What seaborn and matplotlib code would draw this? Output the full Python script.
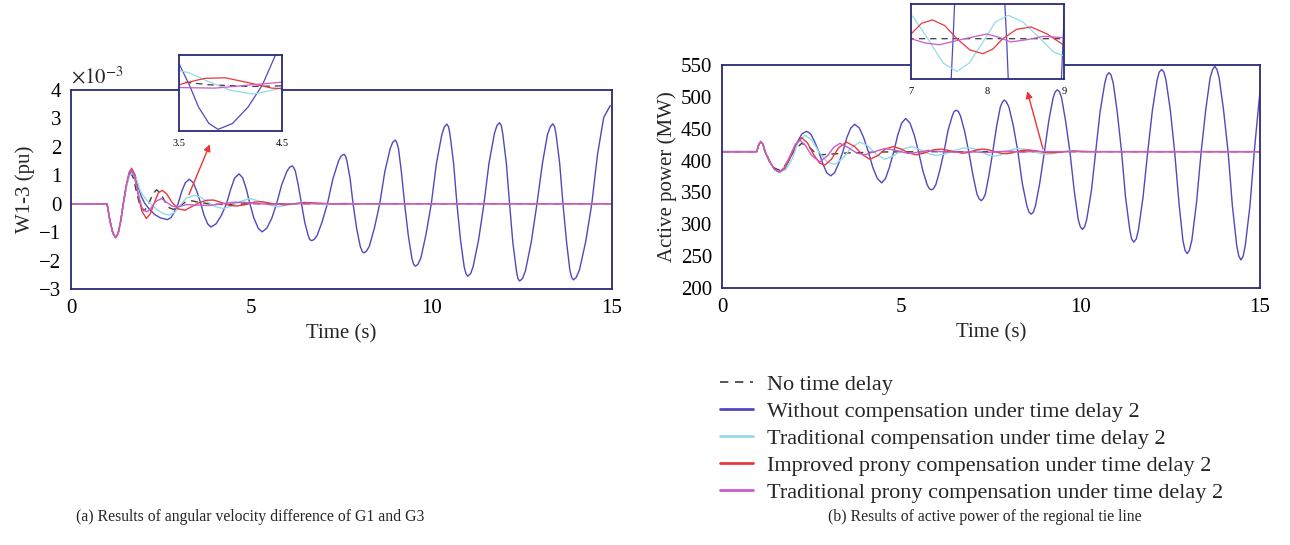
import numpy as np
import pandas as pd
import matplotlib
matplotlib.use("Agg")
import matplotlib.pyplot as plt
import seaborn as sns

# ---- data ----
labels = ["No time delay",
          "Without compensation under time delay 2",
          "Traditional compensation under time delay 2",
          "Improved prony compensation under time delay 2",
          "Traditional prony compensation under time delay 2"]
colors = ["#3a3a3a", "#5049bc", "#93dbe9", "#e8383d", "#c95cc9"]

# (a) angular velocity difference W1-3, units of 1e-3 pu
a_t_nodelay = [0, 1.00, 1.08, 1.16, 1.24, 1.31, 1.38, 1.45, 1.53, 1.60, 1.66, 1.73, 1.82, 1.92, 2.03,
               2.14, 2.26, 2.37, 2.48, 2.60, 2.72, 2.84, 2.98, 3.15, 3.35, 3.55, 3.80, 4.20, 5.00, 15.0]
a_nodelay = [0, 0, -0.60, -1.03, -1.19, -1.03, -0.60, 0, 0.58, 0.95, 1.08, 0.90, 0.40, -0.10, -0.25,
             -0.05, 0.32, 0.49, 0.38, 0.08, -0.14, -0.20, -0.12, 0.04, 0.10, 0.05, 0.00, -0.03, 0, 0]

a_t_without = [0, 1.00, 1.08, 1.16, 1.24, 1.31, 1.38, 1.45, 1.53, 1.62, 1.70, 1.78, 1.86, 1.95, 2.05,
               2.18, 2.32, 2.48, 2.68, 2.78, 2.87, 2.97, 3.07, 3.17, 3.28, 3.39, 3.49, 3.60, 3.69,
               3.79, 3.88, 4.02, 4.17, 4.31, 4.43, 4.54, 4.66, 4.76, 4.86, 4.96, 5.07, 5.19, 5.30,
               5.43, 5.57, 5.70, 5.84, 5.99, 6.06, 6.13, 6.17, 6.22, 6.30, 6.39,
               6.48, 6.58, 6.62, 6.67, 6.74, 6.82, 6.96, 7.11,
               7.26, 7.42, 7.49, 7.57, 7.61, 7.65, 7.74, 7.82,
               7.92, 8.02, 8.07, 8.12, 8.19, 8.27, 8.41, 8.56,
               8.70, 8.85, 8.92, 8.99, 9.03, 9.08, 9.16, 9.25,
               9.35, 9.45, 9.50, 9.55, 9.62, 9.70, 9.84, 9.99,
               10.13, 10.28, 10.35, 10.42, 10.47, 10.51, 10.61, 10.70,
               10.80, 10.90, 10.95, 11.00, 11.08, 11.15, 11.30, 11.45,
               11.59, 11.74, 11.81, 11.88, 11.93, 11.97, 12.07, 12.16,
               12.25, 12.35, 12.39, 12.44, 12.52, 12.60, 12.76, 12.92,
               13.07, 13.21, 13.29, 13.36, 13.41, 13.45, 13.55, 13.64,
               13.74, 13.83, 13.88, 13.93, 14.01, 14.10, 14.27, 14.44,
               14.60, 14.77, 14.95]
a_without = [0, 0, -0.60, -1.03, -1.19, -1.03, -0.60, 0, 0.60, 1.04, 1.20, 1.00, 0.60, 0.25, 0.00,
             -0.20, -0.38, -0.50, -0.56, -0.48, -0.28, 0, 0.43, 0.74, 0.86, 0.74, 0.43, 0, -0.41,
             -0.71, -0.82, -0.71, -0.41, 0, 0.52, 0.91, 1.05, 0.91, 0.52, 0, -0.50, -0.86, -0.99,
             -0.86, -0.50, 0, 0.66, 1.15, 1.28, 1.33, 1.28, 1.15, 0.66, 0,
             -0.65, -1.13, -1.26, -1.30, -1.26, -1.13, -0.65, 0,
             0.87, 1.51, 1.68, 1.74, 1.68, 1.51, 0.87, 0,
             -0.87, -1.50, -1.67, -1.73, -1.67, -1.50, -0.87, 0,
             1.12, 1.94, 2.16, 2.24, 2.16, 1.94, 1.12, 0,
             -1.10, -1.91, -2.13, -2.20, -2.13, -1.91, -1.10, 0,
             1.40, 2.42, 2.70, 2.80, 2.70, 2.42, 1.40, 0,
             -1.28, -2.21, -2.46, -2.55, -2.46, -2.21, -1.28, 0,
             1.43, 2.47, 2.75, 2.85, 2.75, 2.47, 1.43, 0,
             -1.36, -2.36, -2.63, -2.72, -2.63, -2.36, -1.36, 0,
             1.41, 2.43, 2.71, 2.81, 2.71, 2.43, 1.41, 0,
             -1.34, -2.32, -2.59, -2.68, -2.59, -2.32, -1.34, 0,
             1.75, 3.03, 3.45]

a_t_trad = [0, 1.00, 1.08, 1.16, 1.24, 1.31, 1.38, 1.45, 1.53, 1.62, 1.72, 1.82, 1.92, 2.02, 2.12,
            2.25, 2.40, 2.55, 2.72, 2.88, 3.03, 3.20, 3.42, 3.60, 3.80, 4.00, 4.22, 4.45, 4.70,
            4.95, 5.20, 5.45, 5.75, 6.05, 6.40, 6.75, 7.10, 7.50, 8.00, 8.50, 9.20, 15.0]
a_trad = [0, 0, -0.60, -1.03, -1.19, -1.03, -0.60, 0, 0.55, 0.98, 1.10, 0.85, 0.45, 0.25, 0.10,
          -0.05, -0.22, -0.35, -0.40, -0.30, -0.05, 0.20, 0.30, 0.22, 0.05, -0.10, -0.17, -0.08, 0.08,
          0.18, 0.10, -0.03, -0.11, -0.03, 0.06, 0.00, -0.04, 0.02, 0.00, -0.02, 0, 0]

a_t_improved = [0, 1.00, 1.08, 1.16, 1.24, 1.31, 1.38, 1.45, 1.53, 1.61, 1.68, 1.76, 1.86, 1.96, 2.09,
                2.20, 2.30, 2.42, 2.53, 2.65, 2.80, 2.97, 3.16, 3.35, 3.55, 3.75, 3.95, 4.15, 4.40,
                4.60, 4.85, 5.10, 5.30, 5.60, 5.90, 6.20, 6.50, 6.90, 7.30, 8.00, 15.0]
a_improved = [0, 0, -0.60, -1.03, -1.20, -1.03, -0.60, 0, 0.65, 1.10, 1.25, 1.00, 0.35, -0.25, -0.52,
              -0.35, 0.00, 0.38, 0.47, 0.35, 0.05, -0.18, -0.23, -0.10, 0.03, 0.12, 0.13, 0.05, -0.06,
              -0.08, -0.03, 0.06, 0.07, 0.00, -0.04, 0.00, 0.04, 0.02, -0.01, 0, 0]

a_t_prony = [0, 1.00, 1.08, 1.16, 1.24, 1.31, 1.38, 1.45, 1.53, 1.61, 1.68, 1.76, 1.86, 1.97, 2.10,
             2.22, 2.35, 2.51, 2.65, 2.80, 2.95, 3.20, 3.50, 3.85, 4.20, 4.50, 4.80, 5.20, 5.60, 6.00, 15.0]
a_prony = [0, 0, -0.60, -1.03, -1.19, -1.03, -0.60, 0, 0.62, 1.05, 1.20, 0.95, 0.35, -0.15, -0.29,
           -0.15, 0.08, 0.18, 0.05, -0.08, -0.12, -0.03, -0.05, -0.06, 0.00, 0.05, 0.05, 0.00, -0.03, 0, 0]

# (b) active power of the regional tie line, MW
b_t_nodelay = [0, 0.97, 1.02, 1.08, 1.14, 1.20, 1.33, 1.47, 1.60, 1.75, 1.90, 2.05, 2.22, 2.40,
               2.60, 2.73, 3.00, 3.50, 4.50, 6.00, 15.0]
b_nodelay = [414, 414, 424, 430, 426, 414, 399, 388, 385, 392, 405, 418, 427, 423,
             412, 409, 410, 412, 413.5, 414, 414]

b_t_without = [0, 0.97, 1.02, 1.08, 1.14, 1.20, 1.33, 1.47, 1.60, 1.73, 1.85, 1.98, 2.11, 2.23, 2.36,
               2.47, 2.58, 2.70, 2.81, 2.92, 3.03, 3.14, 3.25, 3.37, 3.48, 3.59, 3.70, 3.83, 3.95,
               4.08, 4.20, 4.33, 4.45, 4.56, 4.67, 4.79, 4.90, 5.01, 5.12, 5.24, 5.36, 5.48,
               5.60, 5.72, 5.78, 5.84, 5.90, 5.96, 6.07, 6.19,
               6.30, 6.42, 6.47, 6.53, 6.59, 6.65, 6.76, 6.88,
               7.00, 7.11, 7.17, 7.23, 7.28, 7.34, 7.44, 7.55,
               7.66, 7.76, 7.82, 7.87, 7.93, 8.00, 8.12, 8.25,
               8.37, 8.50, 8.56, 8.62, 8.68, 8.74, 8.86, 8.99,
               9.11, 9.23, 9.29, 9.35, 9.41, 9.47, 9.58, 9.70,
               9.82, 9.93, 9.99, 10.05, 10.11, 10.17, 10.30, 10.42,
               10.54, 10.67, 10.73, 10.79, 10.85, 10.91, 11.02, 11.14,
               11.25, 11.37, 11.42, 11.48, 11.55, 11.61, 11.74, 11.87,
               12.00, 12.13, 12.19, 12.26, 12.32, 12.38, 12.50, 12.62,
               12.74, 12.85, 12.91, 12.97, 13.03, 13.10, 13.23, 13.36,
               13.49, 13.61, 13.68, 13.74, 13.80, 13.86, 13.98, 14.11,
               14.23, 14.35, 14.41, 14.47, 14.53, 14.59, 14.72, 14.84,
               14.95, 15.0]
b_without = [414, 414, 424, 430, 426, 414, 398, 386, 382, 386, 398, 414, 430, 442, 446,
             442, 430, 414, 395, 381, 376, 381, 395, 414, 436, 451, 457, 451, 436,
             414, 390, 372, 365, 372, 390, 414, 440, 459, 466, 459, 440, 414,
             384, 362, 356, 354, 356, 362, 384, 414,
             447, 470, 477, 479, 477, 470, 447, 414,
             376, 347, 340, 337, 340, 347, 376, 414,
             455, 484, 492, 495, 492, 484, 455, 414,
             365, 329, 319, 316, 319, 329, 365, 414,
             462, 498, 508, 511, 508, 498, 462, 414,
             353, 308, 296, 292, 296, 308, 353, 414,
             476, 521, 534, 538, 534, 521, 476, 414,
             343, 291, 277, 272, 277, 291, 343, 414,
             479, 526, 539, 543, 539, 526, 479, 414,
             334, 275, 259, 254, 259, 275, 334, 414,
             481, 530, 543, 548, 543, 530, 481, 414,
             329, 267, 250, 244, 250, 267, 329, 414,
             480, 508]

b_t_trad = [0, 0.97, 1.02, 1.08, 1.14, 1.20, 1.33, 1.47, 1.62, 1.78, 1.95, 2.12, 2.31, 2.50, 2.70,
            2.92, 3.15, 3.38, 3.60, 3.84, 4.05, 4.30, 4.54, 4.80, 5.05, 5.28, 5.50, 5.75, 5.98,
            6.20, 6.50, 6.70, 6.85, 7.02, 7.22, 7.42, 7.60, 7.76, 7.93, 8.10, 8.27, 8.46, 8.66,
            8.86, 9.05, 9.25, 9.45, 9.70, 10.10, 10.50, 15.0]
b_trad = [414, 414, 424, 430, 426, 414, 398, 386, 382, 386, 402, 428, 440, 432, 414,
          398, 394, 404, 420, 429, 424, 410, 402, 408, 418, 422, 418, 411, 408,
          410, 416, 419.3, 420, 418.8, 414, 408.8, 407, 408.8, 413, 417.5, 419, 417.6, 414.5,
          411.2, 410, 411, 413.5, 416, 413, 414, 414]

b_t_improved = [0, 0.97, 1.02, 1.08, 1.14, 1.20, 1.33, 1.47, 1.60, 1.75, 1.90, 2.05, 2.22, 2.38, 2.55,
                2.72, 2.87, 3.05, 3.25, 3.47, 3.70, 3.90, 4.12, 4.35, 4.55, 4.77, 5.00, 5.20, 5.42,
                5.65, 5.90, 6.12, 6.40, 6.70, 6.85, 7.00, 7.14, 7.28, 7.44, 7.60, 7.77, 7.94, 8.07,
                8.20, 8.38, 8.57, 8.78, 9.00, 9.20, 9.40, 9.80, 10.30, 15.0]
b_improved = [414, 414, 424, 430, 426, 414, 398, 386, 382, 388, 405, 425, 436, 428, 410,
              396, 393, 402, 420, 429, 422, 410, 402, 408, 418, 422, 418, 412, 409,
              412, 417, 418, 415, 411.5, 412.6, 415, 417.3, 418, 416.8, 414, 411.6, 410.8, 411.8,
              414, 416, 416.5, 415, 412.6, 412.3, 413, 415, 414, 414]

b_t_prony = [0, 0.97, 1.02, 1.08, 1.14, 1.20, 1.33, 1.47, 1.60, 1.75, 1.90, 2.05, 2.17, 2.32, 2.50,
             2.73, 2.95, 3.12, 3.29, 3.50, 3.75, 3.98, 4.25, 4.54, 4.85, 5.20, 5.45, 5.75, 6.10,
             6.50, 7.00, 7.18, 7.37, 7.68, 7.99, 8.15, 8.30, 8.52, 8.73, 9.20, 15.0]
b_prony = [414, 414, 424, 430, 426, 414, 398, 386, 382, 390, 408, 426, 432, 424, 408,
           398, 408, 421, 427, 421, 412, 409, 414, 419, 416, 411, 413, 416, 414,
           413, 414, 413.1, 412.7, 413.9, 415, 414.3, 413.3, 413.8, 414.5, 414, 414]

a_series = [(a_t_nodelay, a_nodelay), (a_t_without, a_without), (a_t_trad, a_trad),
            (a_t_improved, a_improved), (a_t_prony, a_prony)]
b_series = [(b_t_nodelay, b_nodelay), (b_t_without, b_without), (b_t_trad, b_trad),
            (b_t_improved, b_improved), (b_t_prony, b_prony)]

# ---- style ----
sns.set_style("white")
plt.rcParams["font.family"] = ["Liberation Serif", "DejaVu Serif"]
plt.rcParams["mathtext.fontset"] = "stix"
navy = "#2a2a78"

fig = plt.figure(figsize=(12.9, 5.45), dpi=100)


def draw(ax, series, lw=1.0, legend=False):
    for i, (t, v) in enumerate(series):
        df = pd.DataFrame({"t": t, "v": v})
        sns.lineplot(data=df, x="t", y="v", ax=ax, color=colors[i], linewidth=lw,
                     linestyle=(0, (5, 4)) if i == 0 else "-", estimator=None, sort=False,
                     label=labels[i] if legend else None, legend=False)


def frame(ax, size=15, length=4):
    for s in ax.spines.values():
        s.set_visible(True)
        s.set_color(navy)
        s.set_linewidth(1.3)
    ax.tick_params(direction="out", length=length, width=1.3, color=navy,
                   labelsize=size, labelcolor="black", pad=3)
    ax.set_facecolor("white")


# (a)
axa = fig.add_axes([71 / 1290, 1 - 289 / 545, 541 / 1290, 199 / 545])
draw(axa, a_series)
axa.set_xlim(0, 15)
axa.set_ylim(-3, 4)
axa.set_xticks([0, 5, 10, 15])
axa.set_yticks(range(-3, 5))
frame(axa)
axa.set_xlabel("Time (s)", fontsize=15, labelpad=5)
axa.set_ylabel("W1-3 (pu)", fontsize=15, labelpad=3)
axa.text(0.0, 1.01, r"$\times10^{-3}$", transform=axa.transAxes, fontsize=15, ha="left", va="bottom")
axa.annotate("", xy=(3.88, 2.18), xytext=(3.24, 0.23),
             arrowprops=dict(arrowstyle="-|>", color="#ee3333", lw=1.0, mutation_scale=10))

ina = fig.add_axes([179 / 1290, 1 - 131 / 545, 103 / 1290, 76 / 545])
draw(ina, a_series, lw=0.9)
ina.set_xlim(3.5, 4.5)
ina.set_ylim(-0.85, 0.55)
ina.set_xticks([3.5, 4.5])
ina.set_yticks([])
frame(ina, size=7.5, length=3)
ina.set_xlabel("")
ina.set_ylabel("")

# (b)
axb = fig.add_axes([722 / 1290, 1 - 288 / 545, 538 / 1290, 223 / 545])
draw(axb, b_series, legend=True)
axb.set_xlim(0, 15)
axb.set_ylim(200, 550)
axb.set_xticks([0, 5, 10, 15])
axb.set_yticks(range(200, 551, 50))
frame(axb)
axb.set_xlabel("Time (s)", fontsize=15, labelpad=5)
axb.set_ylabel("Active power (MW)", fontsize=15, labelpad=3)
axb.annotate("", xy=(8.49, 513), xytext=(8.97, 414),
             arrowprops=dict(arrowstyle="-|>", color="#ee3333", lw=1.0, mutation_scale=10))

inb = fig.add_axes([911 / 1290, 1 - 79 / 545, 153 / 1290, 75 / 545])
draw(inb, b_series, lw=0.9)
inb.set_xlim(7, 9)
inb.set_ylim(405.4, 421.4)
inb.set_xticks([7, 8, 9])
inb.set_yticks([])
frame(inb, size=7.5, length=3)
inb.set_xlabel("")
inb.set_ylabel("")

# legend below panel (b)
handles = axb.get_lines()[:5]
leg = fig.legend(handles, labels, loc="upper left", bbox_to_anchor=(720 / 1290, 1 - 374 / 545),
                 frameon=False, fontsize=16, handlelength=1.5, handletextpad=0.63,
                 labelspacing=0.29, borderpad=0, borderaxespad=0)
for i, ln in enumerate(leg.get_lines()):
    ln.set_linewidth(1.2 if i == 0 else 2.0)

fig.text(250 / 1290, 1 - 517 / 545, "(a) Results of angular velocity difference of G1 and G3",
         ha="center", va="center", fontsize=11.3)
fig.text(985 / 1290, 1 - 517 / 545, "(b) Results of active power of the regional tie line",
         ha="center", va="center", fontsize=11.3)

fig.savefig("out.png", dpi=100, facecolor="white")
